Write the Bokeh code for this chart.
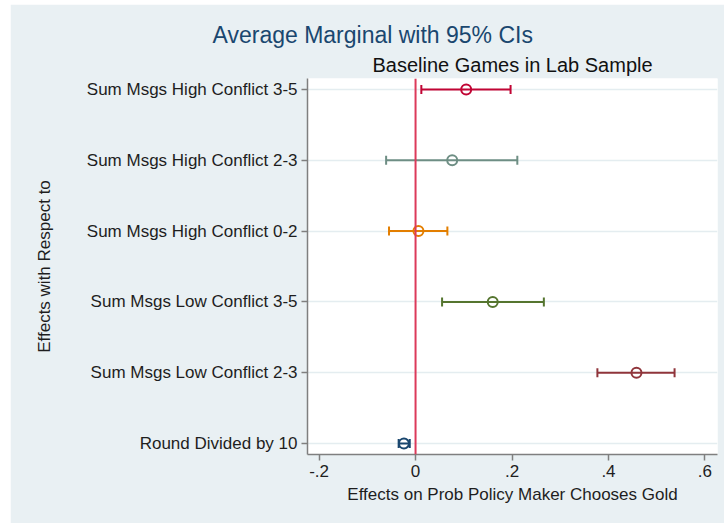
from bokeh.plotting import figure
from bokeh.models import FixedTicker, Span, Title, ColumnDataSource
from bokeh.embed import file_html
from bokeh.resources import INLINE

# Predictors, listed bottom to top as they appear on the y axis
labels = [
    "Round Divided by 10",
    "Sum Msgs Low Conflict 2-3",
    "Sum Msgs Low Conflict 3-5",
    "Sum Msgs High Conflict 0-2",
    "Sum Msgs High Conflict 2-3",
    "Sum Msgs High Conflict 3-5",
]
# Average marginal effects with 95% confidence bounds
effects = [-0.024, 0.458, 0.160, 0.006, 0.076, 0.105]
ci_low = [-0.035, 0.377, 0.055, -0.055, -0.061, 0.012]
ci_high = [-0.012, 0.537, 0.266, 0.066, 0.211, 0.197]
colors = ["#1a476f", "#90353b", "#55752f", "#e37e00", "#6e8e84", "#c10534"]

x_ticks = [-0.2, 0.0, 0.2, 0.4, 0.6]
x_tick_labels = ["-.2", "0", ".2", ".4", ".6"]

FONT = "Liberation Sans"
BG = "#e9f0f3"

positions = list(range(1, len(labels) + 1))
src = ColumnDataSource(dict(y=positions, est=effects, lo=ci_low, hi=ci_high, color=colors))

p = figure(
    width=714, height=519, margin=(4, 0, 0, 10),
    x_range=(-0.224, 0.626), y_range=(0.845, 6.155),
    output_backend="svg", toolbar_location=None, title=None,
    min_border_left=297, min_border_right=7, min_border_top=74, min_border_bottom=69,
    background_fill_color="white", border_fill_color=BG, outline_line_color=None,
)

# titles: subtitle sits next to the frame, main title above it
p.add_layout(Title(text="Baseline Games in Lab Sample", align="center", text_font=FONT,
                   text_font_size="20px", text_font_style="normal", text_color="#111111",
                   standoff=5), "above")
p.add_layout(Title(text="Average Marginal with 95% CIs", align="left", offset=-95,
                   text_font=FONT, text_font_size="23px", text_font_style="normal",
                   text_color="#1a476f", standoff=4), "above")

# confidence intervals
p.segment(x0="lo", y0="y", x1="hi", y1="y", line_color="color", line_width=2, source=src)
for col in ("lo", "hi"):
    p.scatter(x=col, y="y", marker="dash", angle=1.5708, size=9, line_color="color",
              line_width=2, source=src)
# point estimates
p.scatter(x="est", y="y", marker="circle", size=10, fill_color=None, line_color="color",
          line_width=2, source=src)

# reference line at zero
p.add_layout(Span(location=0, dimension="height", line_color="#dc3a5a", line_width=2))

# axes
p.xaxis.ticker = FixedTicker(ticks=x_ticks)
p.xaxis.major_label_overrides = {t: s for t, s in zip(x_ticks, x_tick_labels)}
p.yaxis.ticker = FixedTicker(ticks=positions)
p.yaxis.major_label_overrides = {i: s for i, s in zip(positions, labels)}
p.xaxis.axis_label = "Effects on Prob Policy Maker Chooses Gold"
p.yaxis.axis_label = "Effects with Respect to"

for ax in (p.xaxis[0], p.yaxis[0]):
    ax.axis_line_color = "#7f7f7f"
    ax.axis_line_width = 1.5
    ax.major_tick_line_color = "#7f7f7f"
    ax.major_tick_line_width = 1.5
    ax.major_tick_in = 0
    ax.major_tick_out = 6
    ax.minor_tick_line_color = None
    ax.major_label_text_font = FONT
    ax.major_label_text_font_size = "17px"
    ax.major_label_text_color = "#1e1e1e"
    ax.axis_label_text_font = FONT
    ax.axis_label_text_font_size = "17px"
    ax.axis_label_text_font_style = "normal"
    ax.axis_label_text_color = "#1e1e1e"
    ax.major_label_standoff = 4

p.xaxis.axis_label_standoff = 5
p.yaxis.axis_label_standoff = 30
p.yaxis.major_label_orientation = "horizontal"

p.xgrid.grid_line_color = None
p.ygrid.grid_line_color = "#e4edf0"
p.ygrid.grid_line_width = 1.5

open("out.html", "w").write(file_html(p, INLINE))
